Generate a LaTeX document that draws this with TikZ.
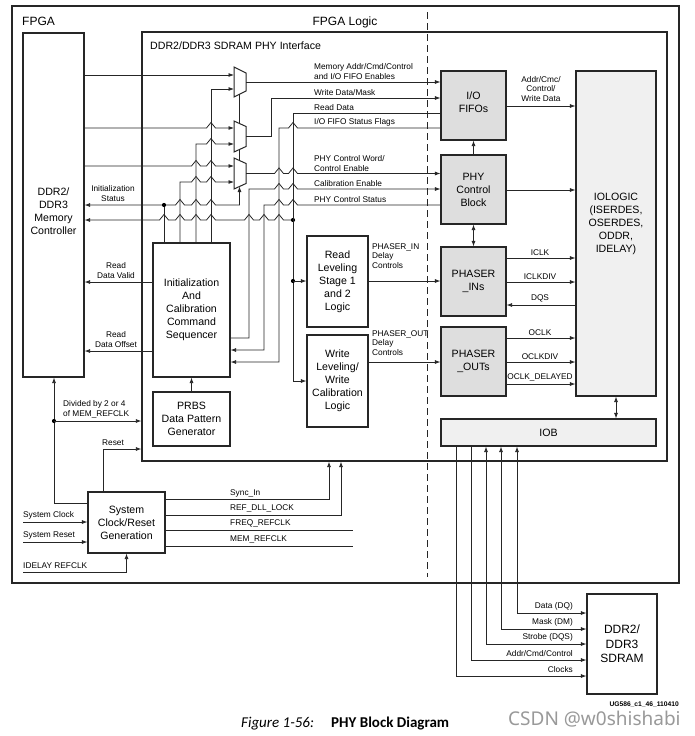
\documentclass[tikz,border=0pt]{standalone}
\usepackage{fontspec}
\setmainfont{Liberation Sans}
\newfontfamily\capfont{Carlito}
\newfontfamily\wmfont{Noto Sans}
\usetikzlibrary{arrows.meta}
\newcommand\hopx[2]{-- ({#1-4.5},#2) -- (#1,{#2-5.5}) -- ({#1+4.5},#2)}
\tikzset{
  wire/.style={line width=0.8pt, draw=black!85},
  arr/.style={wire, -{Latex[length=5.5pt,width=4pt]}},
  rarr/.style={wire, {Latex[length=5.5pt,width=4pt]}-},
  darr/.style={wire, {Latex[length=5.5pt,width=4pt]}-{Latex[length=5.5pt,width=4pt]}},
  blktxt/.style={align=center, inner sep=0pt, font=\fontsize{10.6}{13}\selectfont},
  blk/.style={draw=black!85, line width=1.1pt, fill=white, blktxt},
  gblk/.style={blk, fill=black!13},
  lblk/.style={blk, fill=black!6},
  outer/.style={draw=black!85, line width=1.2pt, inner sep=0pt},
  lab/.style={inner sep=0pt, font=\fontsize{8.3}{9.8}\selectfont, align=left},
  clab/.style={lab, align=center},
  dot/.style={circle, fill=black, inner sep=0pt, minimum size=4.2pt},
  muxs/.style={draw=black!85, line width=1pt, fill=white},
}
\begin{document}
\begin{tikzpicture}[x=1pt,y=-1pt]
\fill[white] (0,0) rectangle (695,736);
\useasboundingbox (0,0) rectangle (695,736);

% outer frames
\node[outer, minimum width=667pt, minimum height=577pt] (fpga) at (345.5,294.5) {};
\node[outer, fill=white, minimum width=525pt, minimum height=429pt] (phy) at (404.5,246.5) {};
\node[anchor=base west, inner sep=0pt, font=\fontsize{12}{14}\selectfont] (tfpga) at (22,25) {FPGA};
\node[anchor=base, inner sep=0pt, font=\fontsize{12}{14}\selectfont] (tlogic) at (345,25) {FPGA Logic};
\node[anchor=base west, inner sep=0pt, font=\fontsize{10.6}{13}\selectfont] (tphy) at (150,49) {DDR2/DDR3 SDRAM PHY Interface};
\draw[line width=1pt, dash pattern=on 7pt off 4pt, black!85] (427,12) -- (427,577);

% blocks
\node[blk, minimum width=61pt, minimum height=344pt, label={[blktxt, yshift=-6pt]center:{DDR2/\\DDR3\\Memory\\Controller}}] (mc) at (53.5,205) {};
\node[blk, minimum width=77pt, minimum height=134pt] (seq) at (191.5,310) {Initialization\\And\\Calibration\\Command\\Sequencer};
\node[blk, minimum width=77pt, minimum height=54pt] (prbs) at (191.5,419) {PRBS\\Data Pattern\\Generator};
\node[blk, minimum width=61pt, minimum height=91pt] (rl) at (337.5,281.5) {Read\\Leveling\\Stage 1\\and 2\\Logic};
\node[blk, minimum width=61pt, minimum height=92pt] (wl) at (337.5,381) {Write\\Leveling/\\Write\\Calibration\\Logic};
\node[gblk, minimum width=65pt, minimum height=69pt, label={[blktxt, yshift=3pt]center:{I/O\\FIFOs}}] (fifo) at (473.5,105.5) {};
\node[gblk, minimum width=65pt, minimum height=69pt] (pcb) at (473.5,189.5) {PHY\\Control\\Block};
\node[gblk, minimum width=65pt, minimum height=69pt] (pin) at (473.5,281.5) {PHASER\\\_INs};
\node[gblk, minimum width=65pt, minimum height=69pt] (pout) at (473.5,361.5) {PHASER\\\_OUTs};
\node[lblk, minimum width=80pt, minimum height=325pt, label={[blktxt, yshift=10pt]center:{IOLOGIC\\(ISERDES,\\OSERDES,\\ODDR,\\IDELAY)}}] (iol) at (616,233.5) {};
\node[lblk, minimum width=215pt, minimum height=27pt] (iob) at (548.5,432.5) {IOB};
\node[blk, minimum width=77pt, minimum height=61pt] (clk) at (126.5,522.5) {System\\Clock/Reset\\Generation};
\node[blk, minimum width=70pt, minimum height=100pt, font=\fontsize{12}{14.5}\selectfont] (sdram) at (622,644) {DDR2/\\DDR3\\SDRAM};

% muxes
\draw[muxs] (234,67) -- (246,73) -- (246,91) -- (234,97) -- cycle;
\draw[muxs] (234,121) -- (246,126.5) -- (246,146.5) -- (234,152) -- cycle;
\draw[muxs] (234,158) -- (246,163.5) -- (246,183.5) -- (234,189) -- cycle;
\draw[wire] (239.5,94.3) -- (239.5,123.5);
\draw[wire] (239.5,149.3) -- (239.5,160.5);

% mux inputs
\draw[arr] (mc.east|-0,75) -- (234,75);
\draw[arr] (seq.north-|211,0) -- (211,89) -- (234,89);
\draw[arr] (mc.east|-0,128) \hopx{211}{128} -- (234,128);
\draw[arr] (seq.north-|196,0) -- (196,144) \hopx{211}{144} -- (234,144);
\draw[arr] (mc.east|-0,166) \hopx{196}{166} \hopx{211}{166} -- (234,166);
\draw[arr] (seq.north-|180,0) -- (180,182) \hopx{196}{182} \hopx{211}{182} -- (234,182);
\draw[darr] (mc.east|-0,205) \hopx{180}{205} \hopx{196}{205} \hopx{211}{205} -- (239.5,205) -- (239.5,186.5);
\draw[wire] (seq.north-|164,0) -- (164,205);
\node[dot] (d1) at (164,205) {};
\draw[rarr] (mc.east|-0,220) \hopx{164}{220} \hopx{180}{220} \hopx{196}{220} \hopx{211}{220} \hopx{249}{220} \hopx{264}{220} \hopx{279}{220} -- (293,220);
\node[dot] (d2) at (293,220) {};

% mux outputs and FIFO / PHY control connections
\draw[arr] (246,82) -- (fifo.west|-0,82);
\draw[arr] (246,136.5) -- (271,136.5) -- (271,98) -- (fifo.west|-0,98);
\draw[arr] (fifo.west|-0,113) -- (293,113) -- (293,381) -- (wl.west|-0,381);
\node[dot] (d3) at (293,281) {};
\draw[arr] (d3.center) -- (rl.west|-0,281);
\draw[rarr] (seq.east|-0,362) -- (279,362) -- (279,128) \hopx{293}{128} -- (fifo.west|-0,128);
\draw[arr] (246,173.5) \hopx{279}{173.5} \hopx{293}{173.5} -- (pcb.west|-0,173.5);
\draw[arr] (seq.east|-0,338) -- (249,338) -- (249,189) \hopx{279}{189} \hopx{293}{189} -- (pcb.west|-0,189);
\draw[rarr] (seq.east|-0,350) -- (264,350) -- (264,205) \hopx{279}{205} \hopx{293}{205} -- (pcb.west|-0,205);

% sequencer left
\draw[arr] (seq.west|-0,282) -- (mc.east|-0,282);
\draw[arr] (seq.west|-0,351) -- (mc.east|-0,351);
\draw[arr] (prbs.north) -- (seq.south);

% leveling
\draw[arr] (rl.east|-0,281) -- (pin.west|-0,281);
\draw[arr] (wl.east|-0,362) -- (pout.west|-0,362);

% right side
\draw[arr] (fifo.east|-0,106) -- (iol.west|-0,106);
\draw[arr] (pcb.east|-0,190) -- (iol.west|-0,190);
\draw[arr] (pcb.north) -- (fifo.south);
\draw[darr] (pcb.south) -- (pin.north);
\draw[arr] (pin.east|-0,258) -- (iol.west|-0,258);
\draw[arr] (pin.east|-0,282) -- (iol.west|-0,282);
\draw[rarr] (pin.east|-0,305) -- (iol.west|-0,305);
\draw[arr] (pout.east|-0,338) -- (iol.west|-0,338);
\draw[arr] (pout.east|-0,362) -- (iol.west|-0,362);
\draw[arr] (pout.east|-0,384) -- (iol.west|-0,384);
\draw[darr] (iol.south) -- (iol.south|-iob.north);

% IOB to SDRAM
\draw[darr] (iob.south-|517,0) -- (517,613) -- (sdram.west|-0,613);
\draw[darr] (iob.south-|501,0) -- (501,629) -- (sdram.west|-0,629);
\draw[darr] (iob.south-|486,0) -- (486,644) -- (sdram.west|-0,644);
\draw[arr] (iob.south-|471,0) -- (471,660) -- (sdram.west|-0,660);
\draw[arr] (iob.south-|456,0) -- (456,676) -- (sdram.west|-0,676);

% clock / reset
\draw[arr] (clk.west|-0,503) -- (54,503) -- (54,0|-mc.south);
\node[dot] (d4) at (54,421) {};
\draw[arr] (d4.center) -- (phy.west|-0,421);
\draw[arr] (clk.north-|103,0) -- (103,449) -- (phy.west|-0,449);
\draw[arr] (23,522) -- (clk.west|-0,522);
\draw[arr] (23,542) -- (clk.west|-0,542);
\draw[arr] (23,572) -- (126.5,572) -- (clk.south);
\draw[arr] (clk.east|-0,499) -- (329,499) -- (phy.south-|329,0);
\draw[arr] (clk.east|-0,515) -- (341,515) -- (phy.south-|341,0);
\draw[wire] (clk.east|-0,530) -- (353,530);
\draw[wire] (clk.east|-0,546) -- (353,546);

% labels
\node[lab, anchor=south west] (l1) at (314,80) {Memory Addr/Cmd/Control\\and I/O FIFO Enables};
\node[lab, anchor=south west] (l2) at (314,96) {Write Data/Mask};
\node[lab, anchor=south west] (l3) at (314,111) {Read Data};
\node[lab, anchor=south west] (l4) at (314,126) {I/O FIFO Status Flags};
\node[lab, anchor=south west] (l5) at (314,171.5) {PHY Control Word/\\Control Enable};
\node[lab, anchor=south west] (l6) at (314,187) {Calibration Enable};
\node[lab, anchor=south west] (l7) at (314,203) {PHY Control Status};
\node[clab, anchor=south] (l8) at (113,202) {Initialization\\Status};
\node[clab, anchor=south] (l9) at (116,278.5) {Read\\Data Valid};
\node[clab, anchor=south] (l10) at (116,347.5) {Read\\Data Offset};
\node[lab, anchor=south west] (l11) at (63,418) {Divided by 2 or 4\\of MEM\_REFCLK};
\node[clab, anchor=south] (l12) at (113,446) {Reset};
\node[lab, anchor=south west] (l13) at (23,519) {System Clock};
\node[lab, anchor=south west] (l14) at (23,539) {System Reset};
\node[lab, anchor=south west] (l15) at (23,569) {IDELAY REFCLK};
\node[lab, anchor=south west] (l16) at (230,497) {Sync\_In};
\node[lab, anchor=south west] (l17) at (230,512.5) {REF\_DLL\_LOCK};
\node[lab, anchor=south west] (l18) at (230,527.5) {FREQ\_REFCLK};
\node[lab, anchor=south west] (l19) at (230,543) {MEM\_REFCLK};
\node[lab, anchor=south west] (l20) at (372,269) {PHASER\_IN\\Delay\\Controls};
\node[lab, anchor=south west] (l21) at (372,356) {PHASER\_OUT\\Delay\\Controls};
\node[clab, anchor=south] (l22) at (541,102) {Addr/Cmc/\\Control/\\Write Data};
\node[clab, anchor=south] (l23) at (540,255.5) {ICLK};
\node[clab, anchor=south] (l24) at (540,279.5) {ICLKDIV};
\node[clab, anchor=south] (l25) at (540,302.5) {DQS};
\node[clab, anchor=south] (l26) at (540,335.5) {OCLK};
\node[clab, anchor=south] (l27) at (540,359.5) {OCLKDIV};
\node[clab, anchor=south] (l28) at (540,381.5) {OCLK\_DELAYED};
\node[lab, anchor=south east] (l29) at (573,610.5) {Data (DQ)};
\node[lab, anchor=south east] (l30) at (573,626.5) {Mask (DM)};
\node[lab, anchor=south east] (l31) at (573,641.5) {Strobe (DQS)};
\node[lab, anchor=south east] (l32) at (573,657) {Addr/Cmd/Control};
\node[lab, anchor=south east] (l33) at (573,673) {Clocks};

% footer
\node[anchor=base east, inner sep=0pt, font=\bfseries\fontsize{6.7}{8}\selectfont] (ug) at (679,706) {UG586\_c1\_46\_110410};
\node[anchor=base west, inner sep=0pt, font=\capfont\itshape\fontsize{15}{18}\selectfont] (cap1) at (241,727) {Figure 1-56:};
\node[anchor=base west, inner sep=0pt, font=\capfont\bfseries\fontsize{15}{18}\selectfont] (cap2) at (331,727) {PHY Block Diagram};
\node[anchor=base west, inner sep=0pt, text=black!40, font=\wmfont\fontsize{19}{22}\selectfont] (wm) at (508,725) {CSDN @w0shishabi};
\end{tikzpicture}
\end{document}
